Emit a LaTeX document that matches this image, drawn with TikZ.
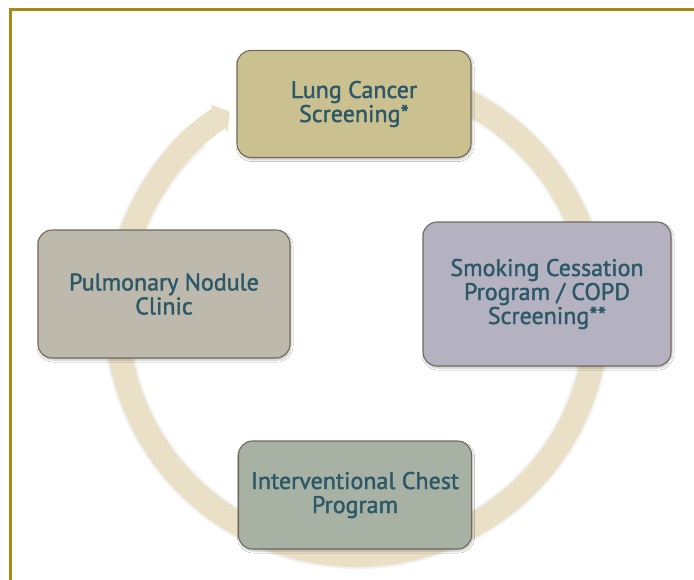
\documentclass[tikz,border=0pt]{standalone}
\usepackage{fontspec}
\setmainfont{PT Sans}[FakeBold=1.6, UprightFeatures={FakeBold=1.6}]
\usetikzlibrary{arrows.meta,shadows.blur}

\begin{document}
\begin{tikzpicture}[x=1pt, y=-1pt, >=Stealth,
    step box/.style={draw=boxline, line width=1.1pt, rounded corners=14pt,
      text=label, align=center, inner sep=0pt,
      font=\fontsize{24}{24}\selectfont,
      blur shadow={shadow xshift=1pt, shadow yshift=-2pt, shadow blur steps=6, shadow opacity=25}}]
  \definecolor{frame}{RGB}{164,140,20}
  \definecolor{ring}{RGB}{233,224,198}
  \definecolor{boxline}{RGB}{112,106,92}
  \definecolor{label}{RGB}{44,88,104}
  \definecolor{screen}{RGB}{203,192,143}
  \definecolor{cessation}{RGB}{180,178,192}
  \definecolor{nodule}{RGB}{189,185,172}
  \definecolor{chest}{RGB}{168,178,164}

  \useasboundingbox (0,0) rectangle (694,579);
  \fill[white] (0,0) rectangle (694,579);
  \draw[frame, line width=3pt] (10,590) -- (10,9) -- (700,9);

  % the care cycle, clockwise round the four programmes
  \coordinate (hub) at (357,315);
  \draw[black!5, line width=28pt] ([shift={(-70:240)}]hub) arc (-70:228:240);
  \draw[ring, line width=24pt, -{Triangle[width=32pt, length=13pt]}]
    ([shift={(-70:240)}]hub) arc (-70:238:240);

  \node[step box, fill=screen, minimum width=234pt, minimum height=107pt]
    (screening) at (354,104) {Lung Cancer\\Screening*};
  \node[step box, fill=cessation, minimum width=248pt, minimum height=144pt]
    (cessation) at (547,294) {Smoking Cessation\\Program / COPD\\Screening**};
  \node[step box, fill=nodule, minimum width=252pt, minimum height=128pt]
    (nodule) at (164,294) {Pulmonary Nodule\\Clinic};
  \node[step box, fill=chest, minimum width=233pt, minimum height=108pt]
    (chest) at (355,495) {Interventional Chest\\Program};
\end{tikzpicture}
\end{document}
